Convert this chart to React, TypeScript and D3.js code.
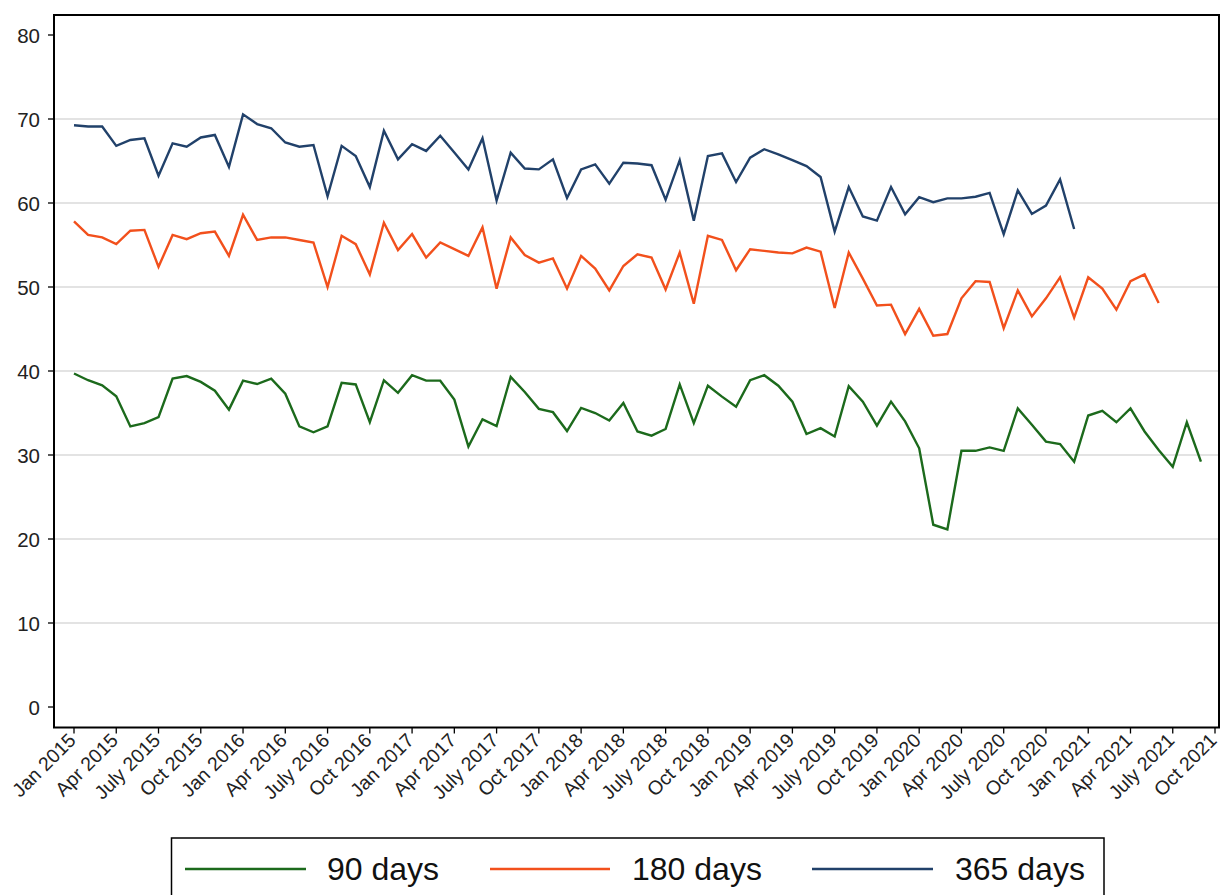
import React from "react";
import * as d3 from "d3";

const tickLabels = [
  "Jan 2015","Apr 2015","July 2015","Oct 2015",
  "Jan 2016","Apr 2016","July 2016","Oct 2016",
  "Jan 2017","Apr 2017","July 2017","Oct 2017",
  "Jan 2018","Apr 2018","July 2018","Oct 2018",
  "Jan 2019","Apr 2019","July 2019","Oct 2019",
  "Jan 2020","Apr 2020","July 2020","Oct 2020",
  "Jan 2021","Apr 2021","July 2021","Oct 2021",
];
const yTicks = [0, 10, 20, 30, 40, 50, 60, 70, 80];
const gridTicks = [10, 20, 30, 40, 50, 60, 70];

// monthly values, index 0 = Jan 2015
const days90 = [
  39.7, 38.9, 38.3, 37.0, 33.4, 33.8, 34.5, 39.1, 39.4, 38.7, 37.65, 35.4,
  38.85, 38.45, 39.1, 37.3, 33.4, 32.7, 33.4, 38.6, 38.4, 33.9, 38.9, 37.4,
  39.5, 38.85, 38.85, 36.6, 31.0, 34.25, 33.45, 39.3, 37.5, 35.5, 35.1, 32.85,
  35.6, 35.0, 34.1, 36.2, 32.8, 32.3, 33.1, 38.4, 33.8, 38.25, 36.95, 35.75,
  38.9, 39.5, 38.25, 36.35, 32.5, 33.2, 32.2, 38.2, 36.35, 33.5, 36.35, 34.0,
  30.8, 21.7, 21.15, 30.5, 30.5, 30.9, 30.5, 35.55, 33.6, 31.6, 31.3, 29.2,
  34.7, 35.25, 33.9, 35.55, 32.8, 30.6, 28.6, 33.9, 29.2,
];
const days180 = [
  57.8, 56.2, 55.9, 55.1, 56.7, 56.8, 52.4, 56.2, 55.7, 56.4, 56.6, 53.7,
  58.6, 55.6, 55.9, 55.9, 55.6, 55.3, 50.0, 56.1, 55.1, 51.5, 57.65, 54.4,
  56.3, 53.5, 55.3, 54.5, 53.7, 57.1, 49.8, 55.9, 53.8, 52.9, 53.4, 49.8,
  53.7, 52.2, 49.6, 52.5, 53.9, 53.5, 49.7, 54.1, 48.0, 56.1, 55.6, 52.0,
  54.5, 54.3, 54.1, 54.0, 54.7, 54.2, 47.5, 54.1, 51.0, 47.8, 47.9, 44.4,
  47.4, 44.2, 44.4, 48.65, 50.7, 50.6, 45.1, 49.6, 46.5, 48.65, 51.15, 46.35,
  51.15, 49.8, 47.3, 50.7, 51.5, 48.1,
];
const days365 = [
  69.25, 69.1, 69.1, 66.8, 67.5, 67.7, 63.25, 67.1, 66.7, 67.8, 68.1, 64.3,
  70.55, 69.4, 68.9, 67.2, 66.7, 66.9, 60.8, 66.8, 65.6, 61.9, 68.6, 65.2,
  67.0, 66.2, 68.0, 66.0, 64.0, 67.7, 60.3, 66.0, 64.1, 64.0, 65.2, 60.6,
  64.0, 64.6, 62.3, 64.8, 64.7, 64.5, 60.4, 65.1, 57.9, 65.6, 65.9, 62.5,
  65.4, 66.4, 65.8, 65.1, 64.4, 63.1, 56.6, 61.9, 58.4, 57.9, 61.9, 58.65,
  60.7, 60.1, 60.55, 60.55, 60.75, 61.2, 56.3, 61.5, 58.7, 59.7, 62.8, 56.9,
];

const seriesNames = ["90 days", "180 days", "365 days"];
const seriesColors = ["#1c6a1c", "#f2501c", "#21416a"];
const seriesData = [days90, days180, days365];

const FONT = "'Liberation Sans', Arial, sans-serif";

export default function App() {
  const left = 54, right = 1219, top = 15, bottom = 727.5;
  const x = d3.scaleLinear().domain([0, 81]).range([74, 1215]);
  const y = d3.scaleLinear().domain([0, 80]).range([707, 35]);
  const line = d3
    .line<number>()
    .x((_, i) => x(i))
    .y((d) => y(d));

  const legendItems = [
    { lx1: 185, lx2: 306, tx: 327 },
    { lx1: 490, lx2: 610, tx: 632 },
    { lx1: 812, lx2: 933, tx: 955 },
  ];

  return (
    <svg
      width={1221}
      height={895}
      style={{ position: "absolute", left: 0, top: 0, background: "#fff" }}
      fontFamily={FONT}
    >
      <rect x={0} y={0} width={1221} height={895} fill="#fff" />
      {gridTicks.map((t) => (
        <line
          key={"g" + t}
          x1={left}
          x2={right}
          y1={y(t)}
          y2={y(t)}
          stroke="#dadada"
          strokeWidth={1.6}
        />
      ))}
      {seriesData.map((d, i) => (
        <path
          key={seriesNames[i]}
          d={line(d) || ""}
          fill="none"
          stroke={seriesColors[i]}
          strokeWidth={2.4}
          strokeLinejoin="miter"
        />
      ))}
      <rect
        x={left}
        y={top}
        width={right - left}
        height={bottom - top}
        fill="none"
        stroke="#000"
        strokeWidth={2}
      />
      {yTicks.map((t) => (
        <g key={"y" + t}>
          <line x1={left - 6} x2={left} y1={y(t)} y2={y(t)} stroke="#000" strokeWidth={1.3} />
          <text
            x={40}
            y={y(t)}
            textAnchor="end"
            dominantBaseline="central"
            fontSize={20.5}
            fill="#222"
          >
            {t}
          </text>
        </g>
      ))}
      {tickLabels.map((lab, i) => {
        const tx = x(i * 3);
        return (
          <g key={lab}>
            <line x1={tx} x2={tx} y1={bottom} y2={bottom + 6} stroke="#000" strokeWidth={1.3} />
            <text
              transform={`translate(${tx + 3},${bottom + 14}) rotate(-45)`}
              textAnchor="end"
              fontSize={19.5}
              fill="#222"
            >
              {lab}
            </text>
          </g>
        );
      })}
      <rect x={171.5} y={838} width={932.5} height={70} fill="none" stroke="#000" strokeWidth={1.5} />
      {legendItems.map((it, i) => (
        <g key={"l" + i}>
          <line x1={it.lx1} x2={it.lx2} y1={869} y2={869} stroke={seriesColors[i]} strokeWidth={2.4} />
          <text x={it.tx} y={880} fontSize={32} fill="#111">
            {seriesNames[i]}
          </text>
        </g>
      ))}
    </svg>
  );
}
